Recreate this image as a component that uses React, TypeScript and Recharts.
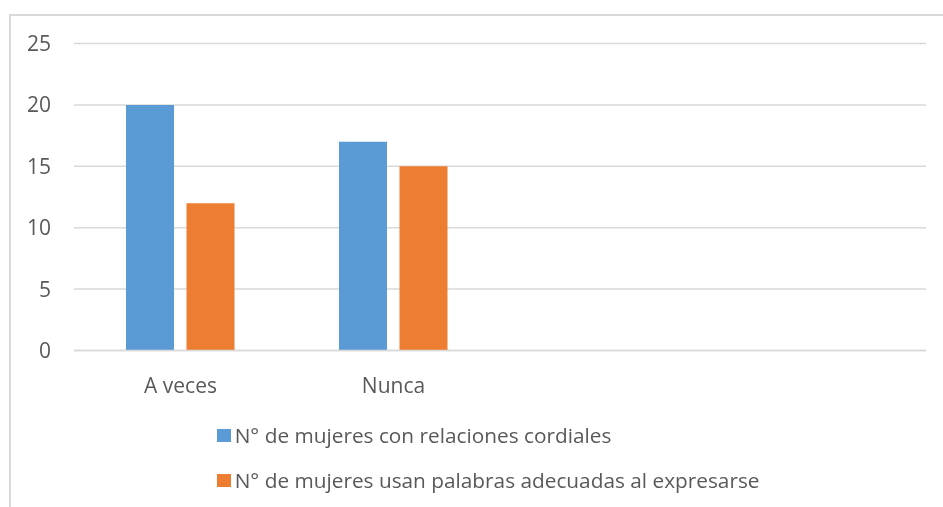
import { BarChart, Bar, XAxis, YAxis, CartesianGrid, Legend } from "recharts";

// categories (last two slots are empty in the original sheet)
const CATEGORIES = ["A veces", "Nunca", "", ""];
const CORDIALES = [20, 17, null, null];
const PALABRAS = [12, 15, null, null];
const Y_TICKS = [0, 5, 10, 15, 20, 25];

const SERIES = [
  { key: "cordiales", name: "N° de mujeres con relaciones cordiales", color: "#5B9BD5" },
  { key: "palabras", name: "N° de mujeres usan palabras adecuadas al expresarse", color: "#ED7D31" },
];

const data = CATEGORIES.map((c, i) => ({
  category: c,
  cordiales: CORDIALES[i],
  palabras: PALABRAS[i],
}));

const FONT = "'Open Sans', sans-serif";
const TEXT = "#595959";
const GRID = "#d9d9d9";

// eslint-disable-next-line @typescript-eslint/no-explicit-any
function LegendBox({ payload }: any) {
  return (
    <div style={{ fontFamily: FONT, fontSize: 20.8, color: TEXT }}>
      {(payload || []).map((p: { value: string; color: string }) => (
        <div key={p.value} style={{ display: "flex", alignItems: "center", height: 45, whiteSpace: "nowrap" }}>
          <span style={{ width: 14, height: 13, backgroundColor: p.color, display: "inline-block", marginRight: 4 }} />
          <span>{p.value}</span>
        </div>
      ))}
    </div>
  );
}

export default function App() {
  return (
    <div style={{ position: "relative", width: 927, height: 491 }}>
      {/* chart frame, runs off the right and bottom of the picture */}
      <div
        style={{
          position: "fixed",
          left: 9,
          top: 14,
          right: 0,
          bottom: 0,
          borderTop: `2px solid ${GRID}`,
          borderLeft: `2px solid ${GRID}`,
        }}
      />
      <BarChart
        width={927}
        height={491}
        data={data}
        margin={{ top: 35.5, right: 9, left: 0, bottom: 118.5 }}
        barSize={48}
        barGap={12.5}
      >
        <CartesianGrid vertical={false} stroke={GRID} strokeWidth={1.5} />
        <XAxis
          dataKey="category"
          height={30}
          tick={{ fontSize: 21, fill: TEXT, fontFamily: FONT }}
          tickLine={false}
          tickMargin={22}
          axisLine={{ stroke: GRID, strokeWidth: 1.5 }}
        />
        <YAxis
          width={66}
          domain={[0, 25]}
          ticks={Y_TICKS}
          tick={{ fontSize: 21, fill: TEXT, fontFamily: FONT }}
          tickLine={false}
          tickMargin={17}
          axisLine={false}
        />
        <Legend
          layout="vertical"
          align="center"
          verticalAlign="middle"
          content={<LegendBox />}
          wrapperStyle={{ left: 208.7, top: 404.5 }}
        />
        {SERIES.map((s) => (
          <Bar key={s.key} dataKey={s.key} name={s.name} fill={s.color} isAnimationActive={false} />
        ))}
      </BarChart>
    </div>
  );
}
